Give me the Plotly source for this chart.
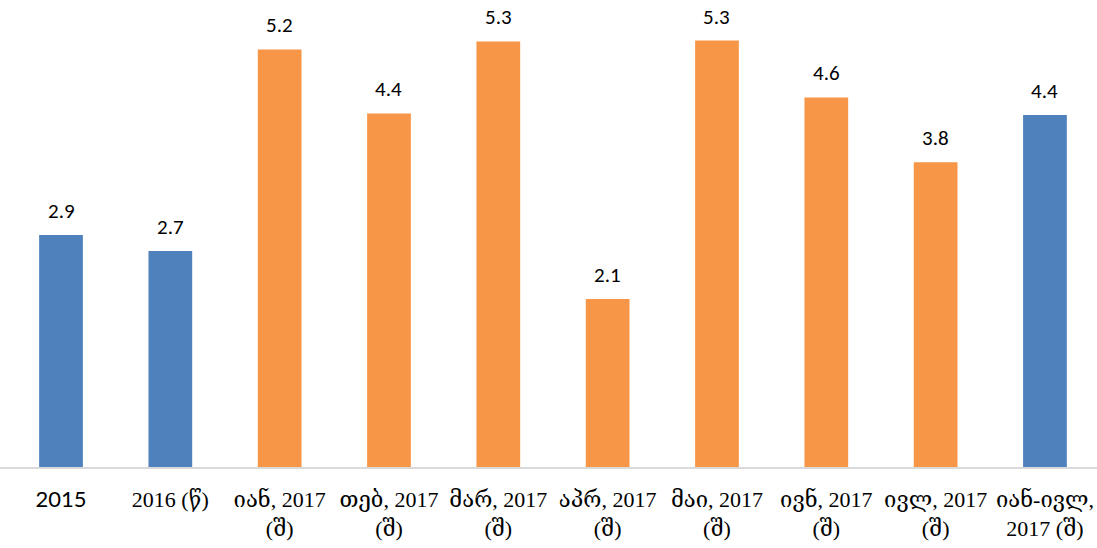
import plotly.graph_objects as go

categories = ["2015", "2016 (წ)", "იან, 2017<br>(შ)", "თებ, 2017<br>(შ)", "მარ, 2017<br>(შ)",
              "აპრ, 2017<br>(შ)", "მაი, 2017<br>(შ)", "ივნ, 2017<br>(შ)", "ივლ, 2017<br>(შ)",
              "იან-ივლ,<br>2017 (შ)"]
values = [2.9, 2.7, 5.22, 4.42, 5.32, 2.1, 5.33, 4.62, 3.81, 4.4]
labels = ["2.9", "2.7", "5.2", "4.4", "5.3", "2.1", "5.3", "4.6", "3.8", "4.4"]
kinds = ["annual", "annual", "m", "m", "m", "m", "m", "m", "m", "annual"]

BLUE = "#4f81bd"
ORANGE = "#f79646"
colors = [BLUE if k == "annual" else ORANGE for k in kinds]

xs = list(range(len(categories)))
ticktext = ['<span style="font-family:Lato">2015</span>'] + categories[1:]

fig = go.Figure()
fig.add_trace(go.Bar(x=xs, y=values, marker=dict(color=colors, line=dict(width=0)),
                     width=0.4, hoverinfo="skip"))

for x, v, t in zip(xs, values, labels):
    fig.add_annotation(x=x, y=v, text=t, showarrow=False, yanchor="bottom", yshift=10,
                       borderpad=0,
                       font=dict(family="Carlito, Lato, sans-serif", size=21, color="#000000"))

fig.update_layout(
    width=1097, height=548,
    margin=dict(l=0, r=0, t=10, b=81),
    paper_bgcolor="white", plot_bgcolor="white",
    showlegend=False,
    xaxis=dict(tickmode="array", tickvals=xs, ticktext=ticktext, range=[-0.558, 9.476],
               showgrid=False, zeroline=False, showline=True, linecolor="#d9d9d9", linewidth=2,
               ticks="outside", ticklen=12, tickcolor="rgba(0,0,0,0)",
               tickfont=dict(family="Liberation Serif, DejaVu Serif, serif", size=22, color="#000000"),
               tickangle=0),
    yaxis=dict(range=[0, 457 / 80], showgrid=False, zeroline=False, showline=False,
               showticklabels=False, ticks=""),
)

fig.write_html("out.html", config={"displayModeBar": False},
               post_script="document.body.style.margin='0';")
